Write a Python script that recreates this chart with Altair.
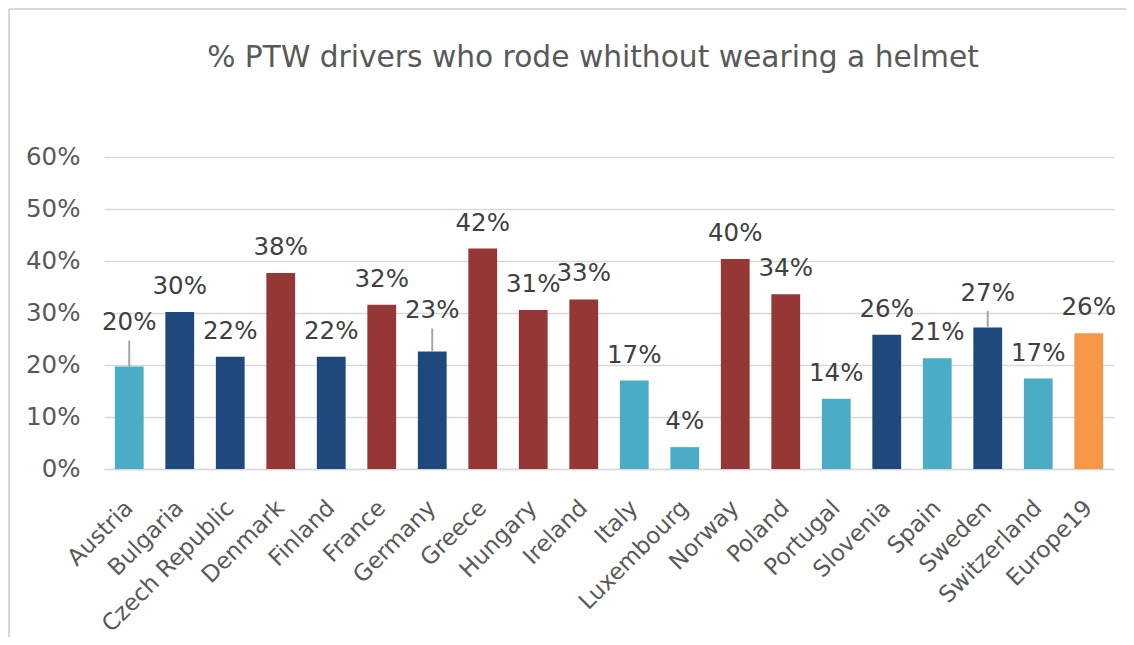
import altair as alt
import pandas as pd

countries = ["Austria", "Bulgaria", "Czech Republic", "Denmark", "Finland", "France",
             "Germany", "Greece", "Hungary", "Ireland", "Italy", "Luxembourg", "Norway",
             "Poland", "Portugal", "Slovenia", "Spain", "Sweden", "Switzerland", "Europe19"]
values = [0.197, 0.302, 0.216, 0.377, 0.216, 0.316, 0.226, 0.424, 0.306, 0.326,
          0.170, 0.042, 0.404, 0.336, 0.135, 0.258, 0.213, 0.272, 0.174, 0.261]
labels = ["20%", "30%", "22%", "38%", "22%", "32%", "23%", "42%", "31%", "33%",
          "17%", "4%", "40%", "34%", "14%", "26%", "21%", "27%", "17%", "26%"]
groups = ["light", "dark", "dark", "red", "dark", "red", "dark", "red", "red", "red",
          "light", "light", "red", "red", "light", "dark", "light", "dark", "light", "avg"]
title_text = "% PTW drivers who rode whithout wearing a helmet"

# labels drawn higher than usual, with a leader line (pixels above bar top)
lifted = {"Austria": 43.5, "Germany": 40.5, "Sweden": 34}

df = pd.DataFrame({"country": countries, "value": values, "label": labels, "group": groups})

W, H = 1010, 312
FONT = "DejaVu Sans"
FS = 24.5

x_enc = alt.X("country:N", sort=countries,
              scale=alt.Scale(paddingInner=0.43, paddingOuter=0.215),
              axis=alt.Axis(title=None, labelAngle=-45, labelAlign="right", labelBaseline="middle",
                            labelFontSize=23, labelColor="#595959", labelFont=FONT,
                            labelPadding=35, labelOffset=0, labelLimit=0, ticks=False,
                            domain=True, domainColor="#D9D9D9", domainWidth=1.5,
                            labelOverlap=False))
y_enc = alt.Y("value:Q", scale=alt.Scale(domain=[0, 0.6], nice=False),
              axis=alt.Axis(title=None, format=".0%", values=[0, 0.1, 0.2, 0.3, 0.4, 0.5, 0.6],
                            labelFontSize=FS, labelColor="#595959", labelFont=FONT,
                            labelPadding=24, ticks=False, domain=False,
                            gridColor="#D9D9D9", gridWidth=1.5))

base = alt.Chart(df)

bars = base.mark_bar().encode(
    x=x_enc, y=y_enc,
    color=alt.Color("group:N", scale=alt.Scale(domain=["light", "dark", "red", "avg"],
                                               range=["#4BACC6", "#1F497D", "#953735", "#F79646"]),
                    legend=None),
)

lifted_names = list(lifted.keys())
normal_labels = base.transform_filter(
    ~alt.FieldOneOfPredicate(field="country", oneOf=lifted_names)
).mark_text(dy=-25, baseline="middle", fontSize=FS, font=FONT, color="#404040").encode(
    x=alt.X("country:N", sort=countries), y="value:Q", text="label:N")

layers = [bars, normal_labels]
for name, lift in lifted.items():
    sub = base.transform_filter(alt.datum.country == name)
    layers.append(sub.mark_text(dy=-lift, baseline="middle", fontSize=FS, font=FONT,
                                color="#404040").encode(
        x=alt.X("country:N", sort=countries), y="value:Q", text="label:N"))
    layers.append(sub.mark_rule(color="#A6A6A6", strokeWidth=2, y2Offset=-(lift - 17.5)).encode(
        x=alt.X("country:N", sort=countries), y="value:Q", y2="value:Q"))

title = alt.Chart(pd.DataFrame({"t": [title_text]})).mark_text(
    fontSize=29.7, font=FONT, color="#595959", baseline="alphabetic", align="center"
).encode(x=alt.value(489), y=alt.value(-90), text="t:N")

border_left = alt.Chart(pd.DataFrame({"a": [0]})).mark_rule(color="#D9D9D9", strokeWidth=2).encode(
    x=alt.value(-95), y=alt.value(-148), y2=alt.value(480))
border_top = alt.Chart(pd.DataFrame({"a": [0]})).mark_rule(color="#D9D9D9", strokeWidth=2).encode(
    x=alt.value(-95), x2=alt.value(1022), y=alt.value(-148))

chart = alt.layer(*layers, title, border_left, border_top).properties(
    width=W, height=H,
    autosize=alt.AutoSizeParams(type="none"),
    padding={"left": 96, "top": 149, "right": 12, "bottom": 168},
).configure(background="white").configure_view(stroke=None, strokeWidth=0)

chart.save("out.html", embed_options={"renderer": "svg", "actions": False})
